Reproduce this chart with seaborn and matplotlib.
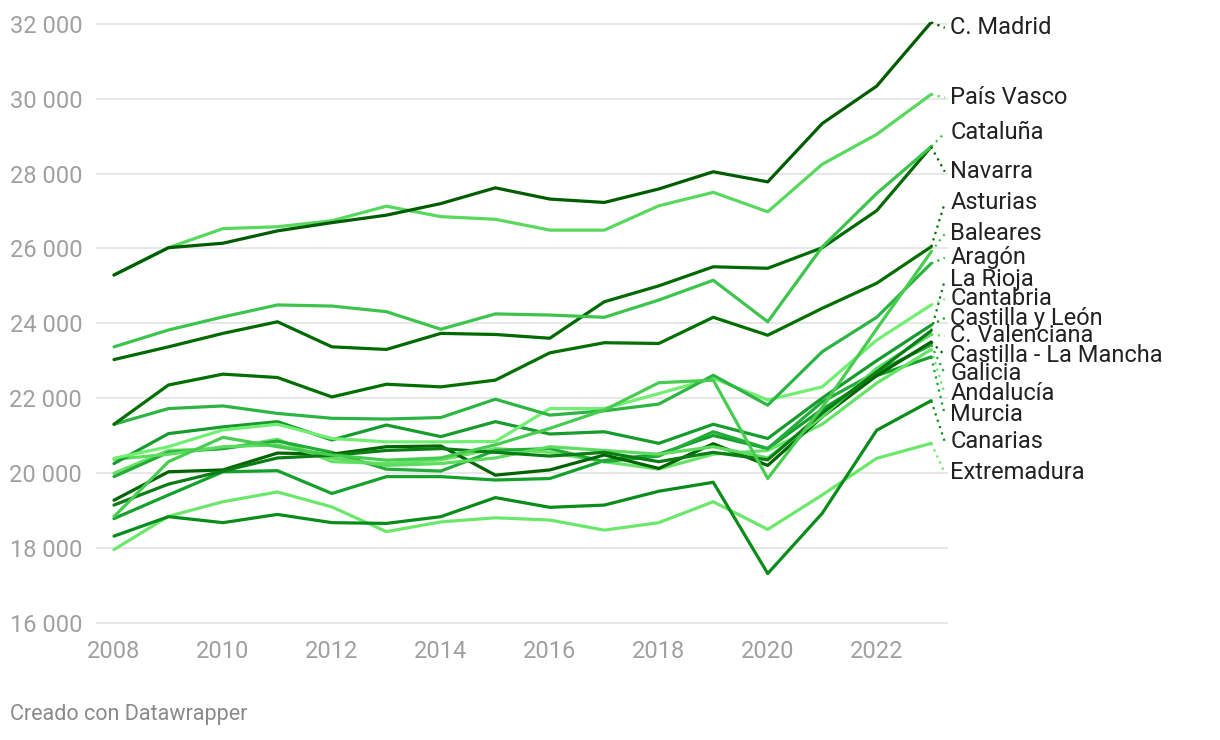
import matplotlib
matplotlib.use('Agg')
import matplotlib.pyplot as plt
import seaborn as sns
import pandas as pd

# 1. 데이터
years = list(range(2008, 2024))

regions = ['C. Madrid', 'País Vasco', 'Cataluña', 'Navarra', 'Asturias', 'Baleares',
           'Aragón', 'La Rioja', 'Cantabria', 'Castilla y León', 'C. Valenciana',
           'Castilla - La Mancha', 'Galicia', 'Andalucía', 'Murcia', 'Canarias', 'Extremadura']

madrid = [25290, 26020, 26140, 26470, 26690, 26890, 27200, 27620, 27320, 27230, 27590, 28050, 27780, 29340, 30340, 32045]
pais_vasco = [25290, 26020, 26530, 26580, 26740, 27130, 26850, 26780, 26490, 26490, 27140, 27500, 26980, 28250, 29050, 30120]
cataluna = [23370, 23820, 24170, 24490, 24460, 24310, 23840, 24250, 24220, 24160, 24620, 25150, 24040, 26040, 27470, 28720]
navarra = [23030, 23370, 23730, 24040, 23370, 23300, 23730, 23700, 23600, 24575, 25000, 25510, 25470, 26020, 27010, 28720]
asturias = [21300, 22350, 22640, 22550, 22030, 22370, 22300, 22480, 23210, 23480, 23460, 24160, 23680, 24400, 25070, 26045]
baleares = [18830, 20300, 20950, 20700, 20480, 20340, 20400, 20750, 21190, 21680, 22410, 22480, 19850, 21750, 23850, 25910]
aragon = [21300, 21720, 21790, 21590, 21460, 21440, 21480, 21970, 21545, 21660, 21840, 22610, 21810, 23240, 24160, 25600]
la_rioja = [19140, 19700, 20050, 20400, 20470, 20600, 20650, 20550, 20450, 20550, 20300, 20550, 20350, 21600, 22700, 23800]
cantabria = [20390, 20700, 21150, 21300, 20920, 20830, 20830, 20840, 21720, 21720, 22120, 22530, 21950, 22300, 23550, 24490]
castilla_leon = [20250, 21050, 21230, 21370, 20880, 21280, 20970, 21370, 21040, 21100, 20790, 21300, 20920, 22000, 23000, 23950]
valenciana = [20360, 20500, 20700, 20750, 20400, 20200, 20250, 20400, 20700, 20600, 20500, 20700, 20400, 21500, 22800, 23700]
castilla_mancha = [19270, 20030, 20080, 20530, 20500, 20700, 20720, 19940, 20080, 20480, 20120, 20780, 20200, 21500, 22600, 23500]
galicia = [19900, 20550, 20650, 20850, 20550, 20100, 20050, 20600, 20650, 20300, 20450, 21100, 20650, 21900, 22700, 23420]
andalucia = [19990, 20600, 20650, 20900, 20300, 20250, 20350, 20650, 20550, 20300, 20100, 20500, 20600, 21300, 22400, 23300]
murcia = [18780, 19410, 20030, 20060, 19450, 19900, 19900, 19810, 19850, 20330, 20500, 21000, 20650, 21700, 22600, 23100]
canarias = [18310, 18830, 18670, 18890, 18670, 18650, 18830, 19340, 19080, 19140, 19510, 19750, 17310, 18920, 21140, 21930]
extremadura = [17950, 18840, 19230, 19490, 19090, 18430, 18690, 18800, 18740, 18470, 18670, 19230, 18490, 19410, 20390, 20790]

series = [madrid, pais_vasco, cataluna, navarra, asturias, baleares, aragon, la_rioja, cantabria,
          castilla_leon, valenciana, castilla_mancha, galicia, andalucia, murcia, canarias, extremadura]

# 라벨 위치 (겹치지 않도록 값 단위로)
label_pos = [31900, 30030, 29090, 28050, 27220, 26390, 25750, 25160, 24650, 24140,
             23660, 23150, 22650, 22110, 21550, 20830, 20000]

colors = ['#005c00', '#58d85c', '#3cc44c', '#006a00', '#006f00', '#48cc50', '#2db543',
          '#0a7d14', '#72ee72', '#159c2c', '#5ddc60', '#006400', '#22ac38', '#66e266',
          '#13a02b', '#088c1a', '#6be86b']

yticks = [16000, 18000, 20000, 22000, 24000, 26000, 28000, 30000, 32000]
ytick_labels = ['16 000', '18 000', '20 000', '22 000', '24 000', '26 000', '28 000', '30 000', '32 000']
xticks = [2008, 2010, 2012, 2014, 2016, 2018, 2020, 2022]

# 2. long format
df = pd.DataFrame({
    'year': years * len(regions),
    'region': [r for r in regions for _ in years],
    'value': [v for s in series for v in s],
})
palette = dict(zip(regions, colors))

# 3. 그리기
sns.set_style('white')
plt.rcParams['font.family'] = ['Roboto', 'DejaVu Sans']

fig = plt.figure(figsize=(12.2, 7.4), dpi=100)
ax = fig.add_axes([0.0787, 0.1562, 0.6984, 0.8139])

for y in yticks:
    ax.axhline(y, color='#e3e3e3', lw=1.2, zorder=0)

# 마드리드가 맨 위에 오도록 역순으로
sns.lineplot(data=df, x='year', y='value', hue='region', hue_order=regions[::-1],
             palette=palette, lw=2.3, legend=False, ax=ax)

for name, s, lp, c in zip(regions, series, label_pos, colors):
    ax.plot([years[-1], years[-1] + 0.25], [s[-1], lp], ls=(0, (1, 2)), color=c,
            lw=1.6, clip_on=False)
    ax.text(years[-1] + 0.35, lp, name, va='center', ha='left', fontsize=17,
            color='#222222', clip_on=False)

ax.set_xlim(2007.67, 2023.31)
ax.set_ylim(15950, 32050)
ax.set_yticks(yticks)
ax.set_yticklabels(ytick_labels)
ax.set_xticks(xticks)
ax.set_xticklabels([str(x) for x in xticks])
ax.tick_params(axis='y', length=0, pad=10, labelsize=17, labelcolor='#a0a0a0')
ax.tick_params(axis='x', length=0, pad=11, labelsize=17, labelcolor='#a0a0a0')
ax.set_xlabel('')
ax.set_ylabel('')
for sp in ax.spines.values():
    sp.set_visible(False)

fig.text(0.0082, 0.0338, 'Creado con Datawrapper', fontsize=15.5, color='#8a8a8a',
         va='center', ha='left')

fig.savefig('out.png', dpi=100)
